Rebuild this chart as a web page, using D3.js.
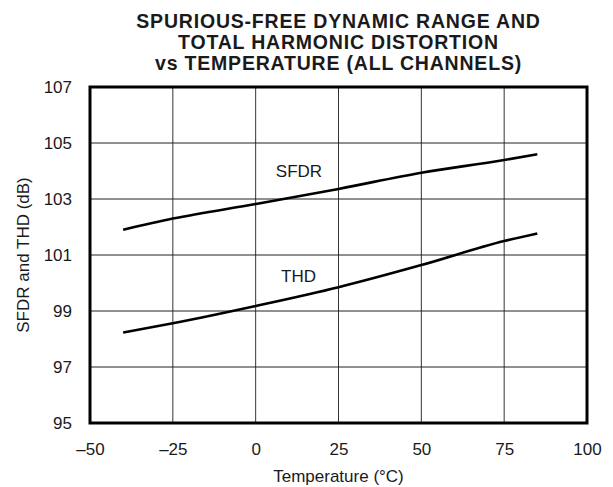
<!DOCTYPE html>
<html><head><meta charset="utf-8">
<script src="https://cdn.jsdelivr.net/npm/d3@7"></script>
<style>body{margin:0;background:#fff}svg{display:block}text{font-family:"Liberation Sans",Arial,Helvetica,sans-serif;fill:#1a1a1a}</style>
</head><body><svg id="c" width="613" height="487"></svg>
<script>
const titleLines = ["SPURIOUS-FREE DYNAMIC RANGE AND","TOTAL HARMONIC DISTORTION","vs TEMPERATURE (ALL CHANNELS)"];
const xTicks = [-50,-25,0,25,50,75,100];
const yTicks = [95,97,99,101,103,105,107];
const temps = [-40,-25,0,25,50,75,85];
const sfdr = [101.9,102.3,102.82,103.36,103.94,104.39,104.6];
const thd  = [98.23,98.56,99.18,99.85,100.64,101.5,101.77];
const xLabel = "Temperature (°C)";
const yLabel = "SFDR and THD (dB)";

const svg = d3.select("#c");
const L=90,R=587,T=87,B=423;
const x = d3.scaleLinear().domain([-50,100]).range([L,R]);
const y = d3.scaleLinear().domain([95,107]).range([B,T]);
const fmt = v => v<0 ? "\u2013"+Math.abs(v) : String(v);

// title
svg.append("g").selectAll("text").data(titleLines).join("text")
  .attr("x",(L+R)/2).attr("y",(d,i)=>27.5+i*21).attr("text-anchor","middle")
  .attr("font-weight","bold").attr("font-size",19.5).attr("letter-spacing",0.8).text(d=>d);

// grid
const g = svg.append("g");
g.selectAll("line.vx").data(xTicks.slice(1,-1)).join("line")
  .attr("x1",d=>x(d)).attr("x2",d=>x(d)).attr("y1",T).attr("y2",B)
  .attr("stroke","#333").attr("stroke-width",1);
g.selectAll("line.hy").data(yTicks.slice(1,-1)).join("line")
  .attr("y1",d=>y(d)).attr("y2",d=>y(d)).attr("x1",L).attr("x2",R)
  .attr("stroke","#222").attr("stroke-width",1);

// axes labels via d3 axes (tick text only)
const xa = svg.append("g").attr("transform",`translate(0,${B})`)
  .call(d3.axisBottom(x).tickValues(xTicks).tickFormat(fmt).tickSize(0).tickPadding(20));
xa.select(".domain").remove();
xa.selectAll("text").attr("font-size",17).attr("font-family",null).attr("fill","#1a1a1a");
const ya = svg.append("g").attr("transform",`translate(${L},0)`)
  .call(d3.axisLeft(y).tickValues(yTicks).tickFormat(d3.format("d")).tickSize(0).tickPadding(18));
ya.select(".domain").remove();
ya.selectAll("text").attr("font-size",17).attr("font-family",null).attr("fill","#1a1a1a");

// frame
svg.append("rect").attr("x",L).attr("y",T).attr("width",R-L).attr("height",B-T)
  .attr("fill","none").attr("stroke","#000").attr("stroke-width",3);

// lines
const line = d3.line().x((d,i)=>x(temps[i])).y(d=>y(d)).curve(d3.curveMonotoneX);
[sfdr,thd].forEach(s=>{
  svg.append("path").attr("d",line(s)).attr("fill","none").attr("stroke","#000").attr("stroke-width",2.6);
});

// series labels
svg.append("text").attr("x",299).attr("y",177).attr("text-anchor","middle").attr("font-size",17).text("SFDR");
svg.append("text").attr("x",298.5).attr("y",282).attr("text-anchor","middle").attr("font-size",17).text("THD");

// axis titles
svg.append("text").attr("x",(L+R)/2).attr("y",482).attr("text-anchor","middle").attr("font-size",17).text(xLabel);
svg.append("text").attr("transform",`translate(29,${(T+B)/2}) rotate(-90)`).attr("text-anchor","middle").attr("font-size",17).text(yLabel);
</script></body></html>
